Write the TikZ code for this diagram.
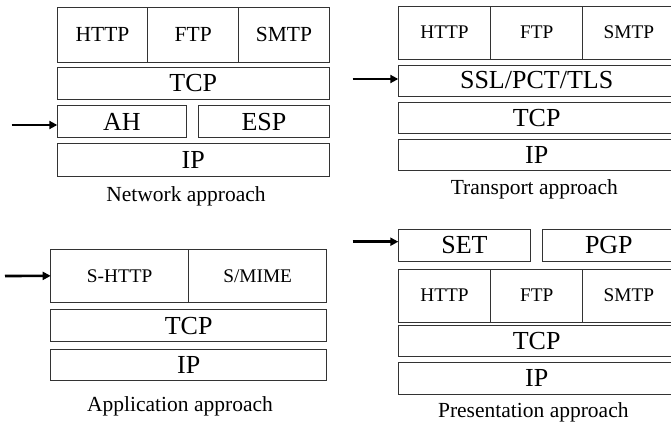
\documentclass[tikz,border=0pt]{standalone}
\usepackage{fontspec}
\setmainfont{Liberation Serif}
\usetikzlibrary{arrows.meta}
\newcommand\lgfont{\fontsize{26}{28}\selectfont}
\newcommand\mdfont{\fontsize{21.5}{24}\selectfont}
\newcommand\smfont{\fontsize{19.3}{22}\selectfont}
\newcommand\capfont{\fontsize{21.5}{24}\selectfont}
% \mybox{name}{x1}{y1}{x2}{y2}{font}{text}
\newcommand\mybox[7]{%
  \node[box,font=#6,minimum width={#4-#2},minimum height={#5-#3}]
    (#1) at ({(#2+#4)/2},{(#3+#5)/2}) {#7};}
\tikzset{
  box/.style={draw=black!80,line width=1pt,inner sep=0pt,outer sep=0pt,rectangle},
  arr/.style={line width=2.6pt,-{Triangle[length=8pt,width=8pt]}},
  captext/.style={inner sep=0pt,font=\capfont}
}
\begin{document}
\begin{tikzpicture}[x=1pt,y=-1pt]
\useasboundingbox (0,0) rectangle (671,423);
% ---------- Network approach ----------
\mybox{nh}{57.3}{7.3}{147.7}{62}{\mdfont}{HTTP}
\mybox{nf}{147.7}{7.3}{238.7}{62}{\mdfont}{FTP}
\mybox{ns}{238.7}{7.3}{329.3}{62}{\mdfont}{SMTP}
\mybox{ntcp}{57.3}{67.3}{329.3}{99.3}{\lgfont}{TCP}
\mybox{nah}{57.3}{105.7}{186.7}{137.7}{\lgfont}{AH}
\mybox{nesp}{198.7}{105.7}{329.3}{137.7}{\lgfont}{ESP}
\mybox{nip}{57.3}{143.7}{329.3}{176}{\lgfont}{IP}
\node[captext] (ncap) at (186,196) {Network approach};
\coordinate (na) at (11.7,125);
\draw[arr] (na) -- (nah.west |- na);
% ---------- Transport approach ----------
\mybox{th}{398.3}{6}{490.7}{59.3}{\smfont}{HTTP}
\mybox{tf}{490.7}{6}{582.7}{59.3}{\smfont}{FTP}
\mybox{ts}{582.7}{6}{675}{59.3}{\smfont}{SMTP}
\mybox{tssl}{398.3}{65}{675}{96}{\lgfont}{SSL/PCT/TLS}
\mybox{ttcp}{398.3}{102}{675}{133.3}{\lgfont}{TCP}
\mybox{tip}{398.3}{139}{675}{170.7}{\lgfont}{IP}
\node[captext] (tcap) at (534.3,189.5) {Transport approach};
\coordinate (ta) at (352.7,79);
\draw[arr] (ta) -- (tssl.west |- ta);
% ---------- Application approach ----------
\mybox{ash}{50.7}{249}{188.7}{302.7}{\smfont}{S-HTTP}
\mybox{asm}{188.7}{249}{326.7}{302.7}{\smfont}{S/MIME}
\mybox{atcp}{50.7}{309.7}{326.7}{341.7}{\lgfont}{TCP}
\mybox{aip}{50.7}{349}{326.7}{380.7}{\lgfont}{IP}
\node[captext] (acap) at (180,406.5) {Application approach};
\coordinate (aa) at (5,276);
\draw[arr] (aa) -- (ash.west);
% ---------- Presentation approach ----------
\mybox{pset}{398.3}{229.3}{530.7}{261.3}{\lgfont}{SET}
\mybox{ppgp}{542.7}{229.3}{675}{261.3}{\lgfont}{PGP}
\mybox{ph}{398.3}{269}{490.7}{322.3}{\smfont}{HTTP}
\mybox{pf}{490.7}{269}{582.7}{322.3}{\smfont}{FTP}
\mybox{ps}{582.7}{269}{675}{322.3}{\smfont}{SMTP}
\mybox{ptcp}{398.3}{325.7}{675}{356.7}{\lgfont}{TCP}
\mybox{pip}{398.3}{362}{675}{394}{\lgfont}{IP}
\node[captext] (pcap) at (533.3,412) {Presentation approach};
\coordinate (pa) at (352.7,241.7);
\draw[arr] (pa) -- (pset.west |- pa);
\end{tikzpicture}
\end{document}
